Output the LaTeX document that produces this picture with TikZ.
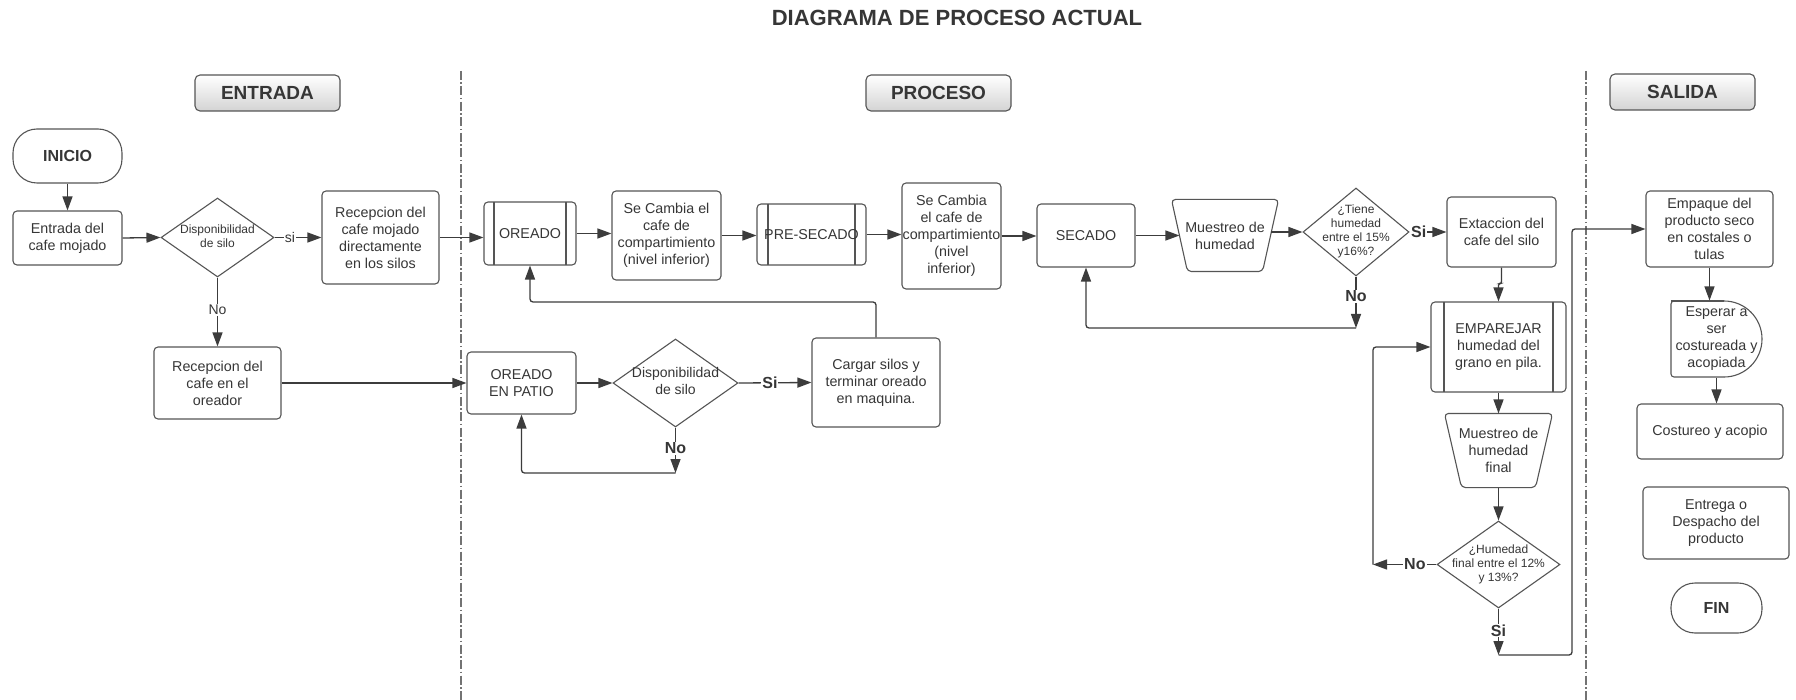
\documentclass[tikz,border=0pt]{standalone}
\usepackage{fontspec}
\setmainfont{Liberation Sans}
\usetikzlibrary{arrows.meta,shapes.geometric,calc}
\definecolor{ink}{HTML}{363636}
\definecolor{edgec}{HTML}{555555}
\definecolor{linec}{HTML}{3C3C3C}
\newcommand{\dtxt}[1]{\makebox[0pt]{\begin{tabular}{@{}c@{}}#1\end{tabular}}}
\tikzset{
  base/.style={draw=edgec, line width=1.1pt, inner sep=0pt, align=center, text=ink, font=\fontsize{14.3}{17}\selectfont},
  box/.style={base, rounded corners=4pt},
  sz/.style 2 args={minimum width=#1pt, minimum height=#2pt},
  pproc/.style={box, path picture={\draw[edgec, line width=1.1pt] ([xshift=#1pt]path picture bounding box.north west) -- ([xshift=#1pt]path picture bounding box.south west) ([xshift=-#1pt]path picture bounding box.north east) -- ([xshift=-#1pt]path picture bounding box.south east);}},
  term/.style={base, rounded corners=24pt, font=\bfseries\fontsize{16}{19}\selectfont},
  dia/.style={base, diamond, aspect=1, font=\fontsize{12}{14}\selectfont},
  ghost/.style={base, draw=none},
  outline/.style={draw=edgec, line width=1.1pt},
  hdr/.style={draw=edgec, line width=1.1pt, rounded corners=5pt, top color=white, bottom color=black!17, minimum width=145pt, minimum height=36pt, inner sep=0pt, text=ink, font=\bfseries\fontsize{19}{22}\selectfont},
  arr/.style={draw=linec, line width=1.3pt, -{Triangle[length=14pt,width=10pt]}},
  ln/.style={draw=linec, line width=1.3pt},
  lbl/.style={fill=white, inner sep=1pt, text=ink, font=\fontsize{14}{17}\selectfont},
  blbl/.style={fill=white, inner sep=1pt, text=ink, font=\bfseries\fontsize{16}{19}\selectfont},
  divider/.style={draw=black!55, line width=1.2pt, dash pattern=on 9pt off 2.5pt on 1.5pt off 2.5pt},
}
\begin{document}
\begin{tikzpicture}[x=1pt,y=-1pt]
\useasboundingbox (0,0) rectangle (1796,700);
\fill[white] (0,0) rectangle (1796,700);

% dividers
\draw[divider] (461,71) -- (461,700);
\draw[divider] (1586,71) -- (1586,700);

% title and headers
\node[font=\bfseries\fontsize{22}{26}\selectfont, text=ink] (title) at (957,18) {DIAGRAMA DE PROCESO ACTUAL};
\node[hdr] (hin) at (267.5,93) {ENTRADA};
\node[hdr] (hpr) at (938.5,93) {PROCESO};
\node[hdr] (hout) at (1682.5,92) {SALIDA};

% ENTRADA
\node[term, sz={109}{54}] (inicio) at (67.5,156) {INICIO};
\node[box, sz={109}{54}] (entrada) at (67.5,238) {Entrada del\\cafe mojado};
\node[dia, sz={113}{79}] (disp1) at (217.5,237.5) {\dtxt{Disponibilidad\\de silo}};
\node[box, sz={117}{93}] (recdir) at (380.5,237.5) {Recepcion del\\cafe mojado\\directamente\\en los silos};
\node[box, sz={127}{72}] (recore) at (217.5,383) {Recepcion del\\cafe en el\\oreador};

% PROCESO row 1
\node[pproc=10, sz={92}{63}] (oreado) at (530,233.5) {OREADO};
\node[box, sz={109}{89}] (sec1) at (666.5,235.5) {Se Cambia el\\cafe de\\compartimiento\\(nivel inferior)};
\node[pproc=11, sz={109}{61}] (pre) at (811.5,234.5) {PRE-SECADO};
\node[box, sz={99}{106}] (sec2) at (951.5,236) {Se Cambia\\el cafe de\\compartimiento\\(nivel\\inferior)};
\node[box, sz={98}{63}] (secado) at (1086,235.5) {SECADO};
\node[ghost, sz={106}{71}] (muest) at (1225,235.5) {Muestreo de\\humedad};
\draw[outline, rounded corners=4pt] (muest.north west) -- (muest.north east) -- ([xshift=-16pt]muest.south east) -- ([xshift=16pt]muest.south west) -- cycle;
\node[dia, sz={106}{88}] (tiene) at (1356,232) {\dtxt{¿Tiene\\humedad\\entre el 15\%\\y16\%?}};
\node[box, sz={109}{70}] (ext) at (1501.5,232) {Extaccion del\\cafe del silo};
\node[pproc=13, sz={135}{90}] (emp) at (1498.5,347) {EMPAREJAR\\humedad del\\grano en pila.};
\node[ghost, sz={107}{73}] (mfin) at (1498.5,450.5) {Muestreo de\\humedad\\final};
\draw[outline, rounded corners=4pt] (mfin.north west) -- (mfin.north east) -- ([xshift=-17pt]mfin.south east) -- ([xshift=17pt]mfin.south west) -- cycle;
\node[dia, sz={123}{87}] (final) at (1498.5,564.5) {\dtxt{¿Humedad\\final entre el 12\%\\y 13\%?}};

% PROCESO row 2
\node[box, sz={109}{62}] (patio) at (521.5,383) {OREADO\\EN PATIO};
\node[dia, sz={125}{88}, font=\fontsize{14}{17}\selectfont] (disp2) at (675.5,383) {\dtxt{Disponibilidad\\de silo}};
\node[box, sz={128}{89}] (cargar) at (876,382.5) {Cargar silos y\\terminar oreado\\en maquina.};

% SALIDA
\node[box, sz={127}{76}] (empq) at (1709.5,229) {Empaque del\\producto seco\\en costales o\\tulas};
\node[ghost, sz={91}{76}] (esp) at (1716.5,339) {Esperar a\\ser\\costureada y\\acopiada};
\draw[outline, rounded corners=3pt] (1671,301) -- (1724,301);
\draw[outline] (1724,301) .. controls (1745,301) and (1762,318) .. (1762,339) .. controls (1762,360) and (1745,377) .. (1724,377);
\draw[outline, rounded corners=3pt] (1724,377) -- (1671,377) -- (1671,301) -- (1690,301);
\node[box, sz={146}{55}] (cost) at (1710,431.5) {Costureo y acopio};
\node[box, sz={146}{72}] (entrega) at (1716,523) {Entrega o\\Despacho del\\producto};
\node[term, sz={91}{50}] (fin) at (1716.5,608) {FIN};

% connectors ENTRADA
\draw[arr] (inicio.south) -- (entrada.north);
\draw[arr] (entrada.east) -- (disp1.west);
\draw[arr] (disp1.east) -- node[lbl, pos=0.33] {si} (recdir.west);
\draw[arr] (disp1.south) -- node[lbl, pos=0.47] {No} (recore.north);
\draw[arr] (recdir.east) -- (recdir.east -| oreado.west);
\draw[arr] (recore.east) -- (recore.east -| patio.west);

% connectors PROCESO row 1
\draw[arr] (oreado.east) -- (oreado.east -| sec1.west);
\draw[arr] (sec1.east) -- (sec1.east -| pre.west);
\draw[arr] (pre.east) -- (pre.east -| sec2.west);
\draw[arr] (sec2.east) -- (sec2.east -| secado.west);
\draw[arr] (secado.east) -- ($(secado.east -| muest.west)+(8,0)$);
\draw[arr] ($(tiene.west -| muest.east)+(-8,0)$) -- (tiene.west);
\draw[arr] (tiene.east) -- node[blbl, pos=0.25] {Si} (tiene.east -| ext.west);
\coordinate (tno) at (1356,328);
\draw[arr] (tiene.south) -- node[blbl, pos=0.38] {No} (tno);
\draw[arr, rounded corners=3pt] (tno) -| (secado.south);
\draw[arr, rounded corners=2pt] (ext.south) -- ++(0,16) -| (emp.north);
\draw[arr] (emp.south) -- (mfin.north);
\draw[arr] (mfin.south) -- (final.north);
\coordinate (fno) at (1373,564.5);
\draw[arr] (final.west) -- node[blbl, pos=0.34] {No} (fno);
\draw[arr, rounded corners=3pt] (fno) |- (emp.west);
\coordinate (fsi) at (1498.5,655);
\draw[arr] (final.south) -- node[blbl, pos=0.47] {Si} (fsi);
\draw[arr, rounded corners=3pt] (fsi) -- (1572,655) |- (empq.west);

% connectors PROCESO row 2
\draw[arr, rounded corners=3pt] (cargar.north) |- (530,302) -- (oreado.south);
\draw[arr] (patio.east) -- (disp2.west);
\draw[arr] (disp2.east) -- node[blbl, pos=0.43] {Si} (cargar.west);
\coordinate (dno) at (675.5,473);
\draw[arr] (disp2.south) -- node[blbl, pos=0.46] {No} (dno);
\draw[arr, rounded corners=3pt] (dno) -| (patio.south);

% connectors SALIDA
\draw[arr] (empq.south) -- (empq.south |- esp.north);
\draw[arr] (esp.south) -- (esp.south |- cost.north);
\end{tikzpicture}
\end{document}
